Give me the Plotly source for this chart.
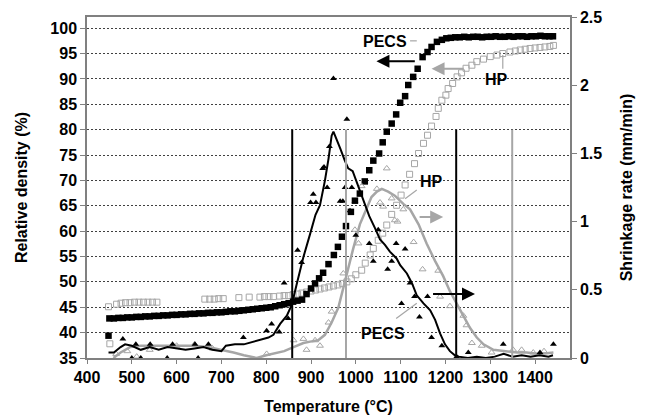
import plotly.graph_objects as go

# ---------------- data ----------------
# Relative density, PECS (black filled squares)
pecs_rd_T = [448, 450, 460, 470, 480, 490, 500, 510, 520, 530, 540, 550, 560, 570, 580, 590,
             600, 610, 620, 630, 640, 650, 660, 670, 680, 690, 700, 710, 720, 730, 740, 750,
             760, 770, 780, 790, 800, 810, 820, 830, 840, 850, 860, 870, 880,
             890, 900, 909, 918, 927, 939, 951, 960, 969, 978, 989, 998, 1009, 1020, 1030,
             1039, 1052, 1060, 1069, 1080, 1090, 1099, 1110, 1117, 1128, 1138, 1149, 1160,
             1169, 1181, 1192, 1202, 1212, 1222, 1232, 1242, 1252, 1262, 1272, 1282, 1292,
             1302, 1312, 1322, 1332, 1342, 1352, 1362, 1372, 1382, 1392, 1402, 1412, 1422,
             1432, 1440]
pecs_rd = [39.4, 42.8, 42.8, 42.9, 42.9, 43.0, 43.0, 43.1, 43.1, 43.2, 43.2, 43.3, 43.3, 43.4,
           43.4, 43.5, 43.5, 43.6, 43.6, 43.7, 43.7, 43.8, 43.8, 43.9, 43.9, 44.0, 44.0, 44.1,
           44.2, 44.2, 44.3, 44.4, 44.5, 44.6, 44.7, 44.8, 44.9, 45.0, 45.2, 45.4, 45.6, 45.8,
           46.1, 46.3, 46.5,
           47.6, 48.7, 49.7, 50.7, 51.8, 53.5, 55.3, 56.9, 58.9, 61.0, 63.8, 66.0, 67.4, 69.8,
           72.0, 73.9, 75.3, 77.5, 79.6, 81.2, 83.0, 85.3, 86.6, 88.8, 90.4, 92.0, 94.3, 95.3,
           96.3, 97.3, 97.7, 98.0, 98.1, 98.2, 98.2, 98.3, 98.2, 98.3, 98.3, 98.2, 98.3,
           98.3, 98.4, 98.3, 98.3, 98.4, 98.3, 98.4, 98.4, 98.3, 98.4, 98.4, 98.5, 98.4,
           98.4, 98.4]

# Relative density, HP (grey open squares)
hp_rd_T = [451, 448, 466, 476, 486, 496, 506, 516, 526, 536, 546, 556,
           663, 674, 684, 694, 704, 739, 762, 786, 796, 806, 816, 830, 840, 850, 860,
           870, 880, 890, 900, 910, 920, 930, 940, 950, 960, 970, 980, 990, 1000, 1013,
           1021, 1032, 1039, 1050, 1060, 1069, 1080, 1091, 1101, 1110, 1120, 1131, 1140,
           1151, 1160, 1169, 1179, 1184, 1192, 1201, 1206, 1216, 1226, 1236, 1246, 1259,
           1270, 1285, 1300, 1315, 1328, 1344, 1356, 1367, 1378, 1389, 1400, 1411, 1422,
           1433, 1441]
hp_rd = [37.8, 45.1, 45.6, 45.8, 45.9, 45.9, 46.0, 46.0, 46.0, 46.0, 46.0, 46.0,
         46.6, 46.6, 46.6, 46.7, 46.7, 46.9, 47.0, 47.0, 47.1, 47.1, 47.1, 47.2, 47.3, 47.3, 47.5,
         47.6, 47.8, 48.0, 48.2, 48.4, 48.6, 48.8, 49.0, 49.2, 49.4, 49.7, 50.0, 50.6, 51.4, 52.3,
         53.7, 55.3, 56.6, 58.2, 59.6, 61.2, 63.3, 65.1, 67.1, 69.1, 71.2, 73.3, 75.3,
         77.3, 78.9, 80.7, 82.6, 84.2, 85.8, 86.8, 88.1, 89.1, 90.4, 91.2, 92.1, 92.7,
         93.4, 93.9, 94.4, 94.7, 95.0, 95.3, 95.5, 95.7, 95.85, 96.0, 96.1, 96.2, 96.3,
         96.4, 96.6]

# Shrinkage rate, PECS (black smoothed line)
pecs_sr_line_T = [448, 460, 475, 485, 500, 520, 540, 560, 580, 600, 620, 640, 660, 680, 700,
                  710, 730, 750, 770, 793, 805, 816, 831, 846, 857, 868, 883, 898, 910, 920,
                  931, 939, 946, 950, 958, 966, 975, 983, 993, 1006, 1017, 1030, 1043, 1054,
                  1065, 1076, 1091, 1099, 1114, 1125, 1136, 1151, 1166, 1177, 1188, 1199, 1210,
                  1221, 1230, 1250, 1270, 1290, 1310, 1330, 1350, 1370, 1390, 1410, 1430, 1440]
pecs_sr_line = [0.04, 0.04, 0.08, 0.10, 0.09, 0.06, 0.08, 0.06, 0.08, 0.07, 0.06, 0.07, 0.08,
                0.06, 0.05, 0.09, 0.10, 0.10, 0.12, 0.14, 0.15, 0.17, 0.25, 0.31, 0.39, 0.54,
                0.74, 0.91, 1.05, 1.12, 1.30, 1.46, 1.63, 1.66, 1.60, 1.53, 1.45, 1.39, 1.37,
                1.25, 1.16, 1.04, 0.95, 0.87, 0.83, 0.78, 0.73, 0.68, 0.62, 0.55, 0.46, 0.40,
                0.35, 0.28, 0.18, 0.10, 0.05, 0.02, 0.01, 0.00, 0.01, 0.00, 0.01, 0.03, 0.01,
                0.02, 0.01, 0.02, 0.01, 0.02]

# Shrinkage rate, PECS (black filled triangles)
pecs_sr_pts_T = [480, 500, 509, 520, 541, 579, 591, 641, 648, 671, 749, 801, 812, 829, 840,
                 849, 870, 879, 899, 905, 911, 926, 929, 936, 941, 950, 965, 971, 976, 980, 987,
                 991, 998, 1000, 1030, 1039, 1050, 1071, 1080, 1090, 1102, 1110, 1121, 1131,
                 1142, 1160, 1169, 1192, 1225, 1251, 1329, 1411, 1441]
pecs_sr_pts = [0.14, 0.0, 0.10, 0.0, 0.10, 0.0, 0.10, 0.10, 0.0, 0.10, 0.15, 0.20, 0.25, 0.19,
               0.55, 0.29, 0.79, 0.70, 1.14, 1.20, 1.14, 1.39, 1.40, 1.25, 1.55, 2.05, 1.15,
               1.15, 1.25, 1.75, 1.08, 1.25, 1.15, 0.90, 0.84, 0.71, 0.94, 0.65, 0.71, 0.84,
               0.40, 0.80, 0.55, 0.45, 0.30, 0.45, 0.15, 0.09, 0.01, 0.04, 0.10, 0.04, 0.10]

# Shrinkage rate, HP (grey smoothed line)
hp_sr_line_T = [459, 475, 496, 520, 560, 600, 640, 670, 700, 727, 750, 779, 800, 816, 840, 861,
                883, 898, 916, 931, 946, 961, 972, 983, 994, 1009, 1024, 1035, 1047, 1058,
                1072, 1087, 1106, 1121, 1140, 1158, 1177, 1195, 1210, 1225, 1240, 1255, 1270,
                1285, 1307, 1337, 1360, 1381, 1411, 1441]
hp_sr_line = [0.0, 0.04, 0.08, 0.09, 0.09, 0.09, 0.09, 0.08, 0.06, 0.04, 0.02, 0.0, 0.02,
              0.03, 0.05, 0.08, 0.11, 0.12, 0.13, 0.17, 0.26, 0.37, 0.52, 0.65, 0.80, 0.98,
              1.09, 1.18, 1.22, 1.24, 1.22, 1.19, 1.13, 1.09, 0.98, 0.84, 0.71, 0.60, 0.49,
              0.40, 0.32, 0.22, 0.15, 0.10, 0.06, 0.05, 0.04, 0.04, 0.03, 0.04]

# Shrinkage rate, HP (grey open triangles)
hp_sr_pts_T = [465, 490, 511, 540, 600, 640, 680, 801, 861, 883, 890, 909, 920, 939, 946, 972,
               998, 1006, 1013, 1047, 1054, 1061, 1069, 1080, 1087, 1093, 1106, 1129, 1149,
               1184, 1188, 1210, 1240, 1247, 1259, 1281, 1303, 1351, 1370, 1396, 1420]
hp_sr_pts = [0.03, 0.05, 0.01, 0.06, 0.09, 0.10, 0.07, 0.03, 0.13, 0.14, 0.06, 0.13, 0.09,
             0.26, 0.34, 0.62, 0.94, 0.84, 1.26, 1.24, 1.14, 1.11, 1.39, 1.17, 1.01, 1.00,
             1.09, 0.85, 0.65, 0.64, 0.45, 0.38, 0.31, 0.24, 0.11, 0.09, 0.04, 0.06, 0.06,
             0.04, 0.05]

# vertical marker lines (temperature, colour)
vlines_T = [858, 978, 1224, 1349]
vlines_col = ["black", "#a6a6a6", "black", "#a6a6a6"]
vline_top = 80

x_ticks = [400, 500, 600, 700, 800, 900, 1000, 1100, 1200, 1300, 1400]
y_ticks = [35, 40, 45, 50, 55, 60, 65, 70, 75, 80, 85, 90, 95, 100]
y2_ticks = [0, 0.5, 1, 1.5, 2, 2.5]

GREY = "#a6a6a6"
FONT = "Liberation Sans"

fig = go.Figure()

fig.add_trace(go.Scatter(x=hp_sr_line_T, y=hp_sr_line, yaxis="y2", mode="lines",
                         line=dict(color=GREY, width=2.5), showlegend=False))
fig.add_trace(go.Scatter(x=hp_sr_pts_T, y=hp_sr_pts, yaxis="y2", mode="markers",
                         marker=dict(symbol="triangle-up-open", size=6, color=GREY,
                                     line=dict(width=1, color=GREY)),
                         cliponaxis=False, showlegend=False))
fig.add_trace(go.Scatter(x=hp_rd_T, y=hp_rd, mode="markers",
                         marker=dict(symbol="square-open", size=6, color=GREY,
                                     line=dict(width=1, color=GREY)),
                         showlegend=False))
fig.add_trace(go.Scatter(x=pecs_sr_pts_T, y=pecs_sr_pts, yaxis="y2", mode="markers",
                         marker=dict(symbol="triangle-up", size=6, color="black"),
                         cliponaxis=False, showlegend=False))
fig.add_trace(go.Scatter(x=pecs_sr_line_T, y=pecs_sr_line, yaxis="y2", mode="lines",
                         line=dict(color="black", width=2), showlegend=False))
fig.add_trace(go.Scatter(x=pecs_rd_T, y=pecs_rd, mode="markers",
                         marker=dict(symbol="square", size=6.5, color="black"),
                         showlegend=False))

shapes = []
for t, c in zip(vlines_T, vlines_col):
    shapes.append(dict(type="line", xref="x", yref="y", x0=t, x1=t, y0=35, y1=vline_top,
                       line=dict(color=c, width=2)))
# leader lines for labels
leaders = [(1121, 97.5, 1136, 97.5), (1328, 94.7, 1328, 92.0),
           (1136, 68.1, 1110, 66.4), (1090, 42.8, 1136, 45.8)]
for x0, y0, x1, y1 in leaders:
    shapes.append(dict(type="line", xref="x", yref="y", x0=x0, y0=y0, x1=x1, y1=y1,
                       line=dict(color=GREY, width=1.2)))

annotations = []
# arrows: (tail x, head x, y, colour)
arrows = [(1135, 1046, 93.5, "black"), (1244, 1169, 92.0, GREY),
          (1139, 1195, 62.8, GREY), (1169, 1266, 47.6, "black")]
for tx, hx, yy, c in arrows:
    annotations.append(dict(x=hx, y=yy, ax=tx, ay=yy, xref="x", yref="y", axref="x", ayref="y",
                            showarrow=True, arrowhead=2, arrowsize=1.3, arrowwidth=2,
                            arrowcolor=c, text=""))
labels = [("PECS", 1066, 97.4), ("HP", 1315, 89.8), ("HP", 1168, 69.7), ("PECS", 1061, 39.8)]
for txt, x, y in labels:
    annotations.append(dict(x=x, y=y, xref="x", yref="y", text="<b>%s</b>" % txt,
                            showarrow=False, font=dict(family=FONT, size=16, color="black")))

tick_font = dict(family=FONT, size=16, color="black")
title_font = dict(family=FONT, size=16, color="black")

fig.update_layout(
    width=646, height=419,
    margin=dict(l=87, r=76, t=17, b=61),
    paper_bgcolor="white", plot_bgcolor="white",
    font=tick_font,
    shapes=shapes, annotations=annotations,
    xaxis=dict(range=[400, 1478], tickvals=x_ticks, ticktext=["<b>%d</b>" % v for v in x_ticks],
               tickfont=tick_font, automargin=False,
               showgrid=False, zeroline=False, showline=True, linecolor="#808080", linewidth=1.5,
               mirror=True, ticks="outside", ticklen=4, tickcolor="#808080",
               title=dict(text="<b>Temperature (°C)</b>", font=title_font, standoff=16)),
    yaxis=dict(range=[35, 102.2], tickvals=y_ticks, ticktext=["<b>%d</b>" % v for v in y_ticks],
               tickfont=tick_font, automargin=False,
               showgrid=True, gridcolor="#404040", griddash="2px,2px", gridwidth=1,
               zeroline=False, showline=True, linecolor="#808080", linewidth=1.5,
               ticks="outside", ticklen=5, tickcolor="#808080",
               title=dict(text="<b>Relative density (%)</b>", font=title_font, standoff=19)),
    yaxis2=dict(range=[0, 2.5], overlaying="y", side="right", tickvals=y2_ticks,
                ticktext=["<b>%g</b>" % v for v in y2_ticks], tickfont=tick_font,
                automargin=False,
                showgrid=False, zeroline=False, showline=True, linecolor="#808080", linewidth=1.5,
                ticks="outside", ticklen=5, tickcolor="#808080",
                title=dict(text="<b>Shrinkage rate (mm/min)</b>", font=title_font, standoff=20)),
)

fig.write_html("out.html")
